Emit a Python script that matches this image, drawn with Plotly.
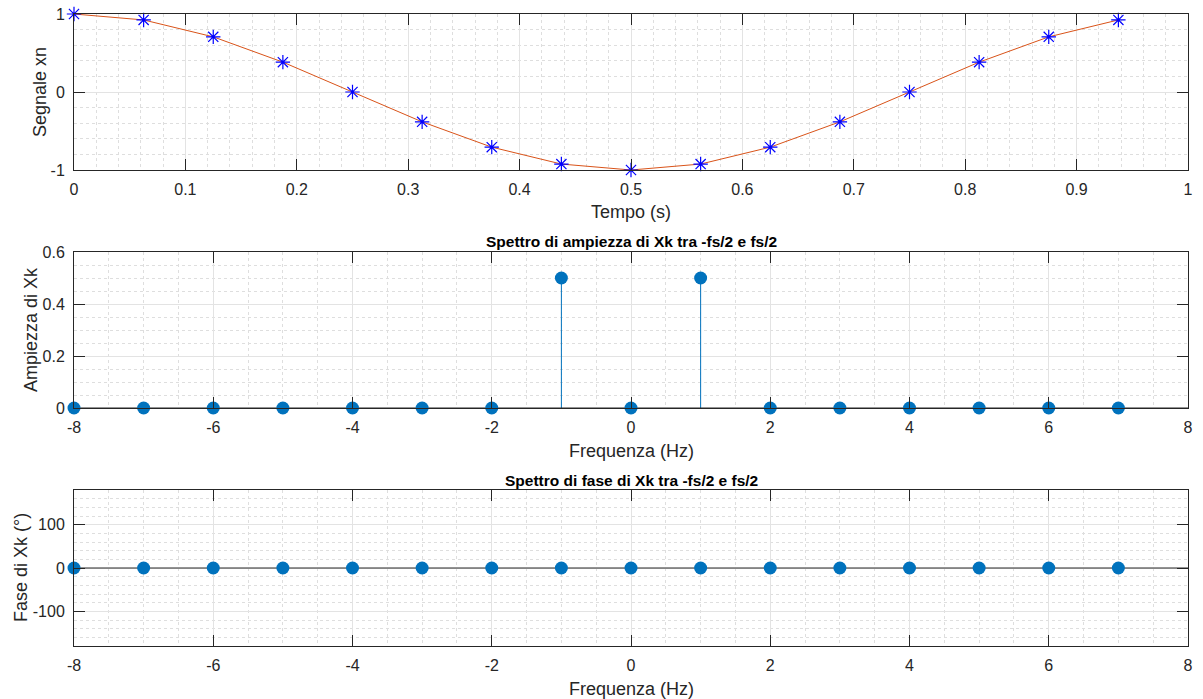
import numpy as np
import plotly.graph_objects as go

# ---- data ----
t = [0, 0.0625, 0.125, 0.1875, 0.25, 0.3125, 0.375, 0.4375, 0.5,
     0.5625, 0.625, 0.6875, 0.75, 0.8125, 0.875, 0.9375]
xn = [1, 0.9239, 0.7071, 0.3827, 0, -0.3827, -0.7071, -0.9239, -1,
      -0.9239, -0.7071, -0.3827, 0, 0.3827, 0.7071, 0.9239]
freq = [-8, -7, -6, -5, -4, -3, -2, -1, 0, 1, 2, 3, 4, 5, 6, 7]
amp = [0, 0, 0, 0, 0, 0, 0, 0.5, 0, 0.5, 0, 0, 0, 0, 0, 0]
phase = [0] * 16

t_ticks = [0, 0.1, 0.2, 0.3, 0.4, 0.5, 0.6, 0.7, 0.8, 0.9, 1]
t_labels = ["0", "0.1", "0.2", "0.3", "0.4", "0.5", "0.6", "0.7", "0.8", "0.9", "1"]
x_ticks = [-8, -6, -4, -2, 0, 2, 4, 6, 8]
x_labels = ["-8", "-6", "-4", "-2", "0", "2", "4", "6", "8"]
y1_ticks, y1_labels = [-1, 0, 1], ["-1", "0", "1"]
y2_ticks, y2_labels = [0, 0.2, 0.4, 0.6], ["0", "0.2", "0.4", "0.6"]
y3_ticks, y3_labels = [-100, 0, 100], ["-100", "0", "100"]

W, H = 1203, 699
AX = "#262626"
BLUE = "#0072BD"
FONT = "Liberation Sans, Arial, sans-serif"

def px_y(py):
    return 1 - py / H

def px_x(px):
    return px / W

xdom = [px_x(74), px_x(1188)]
ydoms = [(px_y(170), px_y(14)), (px_y(408), px_y(252)), (px_y(646), px_y(490))]

fig = go.Figure()

# top: signal
fig.add_trace(go.Scatter(x=t, y=xn, mode="lines", line=dict(color="#D95319", width=1),
                         xaxis="x", yaxis="y", showlegend=False, hoverinfo="skip"))
fig.add_trace(go.Scatter(x=t, y=xn, mode="markers",
                         marker=dict(symbol="asterisk-open", size=12, color="#0000FF",
                                     line=dict(color="#0000FF", width=1.2)),
                         cliponaxis=False, xaxis="x", yaxis="y", showlegend=False))

def stems(xs, ys, xa, ya):
    sx, sy = [], []
    for a, b in zip(xs, ys):
        sx += [a, a, None]
        sy += [0, b, None]
    fig.add_trace(go.Scatter(x=sx, y=sy, mode="lines", line=dict(color=BLUE, width=1),
                             xaxis=xa, yaxis=ya, showlegend=False, hoverinfo="skip"))
    fig.add_trace(go.Scatter(x=[-8, 8], y=[0, 0], mode="lines", line=dict(color=AX, width=1),
                             xaxis=xa, yaxis=ya, showlegend=False, hoverinfo="skip"))
    fig.add_trace(go.Scatter(x=xs, y=ys, mode="markers",
                             marker=dict(symbol="circle", size=13, color=BLUE),
                             cliponaxis=False, xaxis=xa, yaxis=ya, showlegend=False))

stems(freq, amp, "x2", "y2")
stems(freq, phase, "x3", "y3")

tickfont = dict(family=FONT, size=16, color=AX)

def common(minor):
    return dict(showline=True, linecolor=AX, linewidth=1, mirror="ticks",
                ticks="inside", ticklen=11, tickcolor=AX, tickfont=tickfont,
                ticklabelstandoff=5, automargin=False,
                showgrid=True, gridcolor="#E3E3E3", gridwidth=1, zeroline=False,
                minor=dict(dtick=minor, tick0=0, showgrid=True, gridcolor="#DEDEDE",
                           griddash="dot", gridwidth=1, ticks=""))

def xaxis(rng, tv, tt, minor, anchor):
    d = common(minor)
    d.update(domain=xdom, range=rng, tickvals=tv, ticktext=tt, anchor=anchor)
    return d

def yaxis(dom, rng, tv, tt, minor, anchor):
    d = common(minor)
    d.update(domain=list(dom), range=rng, tickvals=tv, ticktext=tt, anchor=anchor)
    return d

fig.update_layout(
    width=W, height=H, margin=dict(l=0, r=0, t=0, b=0),
    paper_bgcolor="white", plot_bgcolor="white",
    font=dict(family=FONT, size=16, color=AX),
    xaxis=xaxis([0, 1], t_ticks, t_labels, 0.02, "y"),
    yaxis=yaxis(ydoms[0], [-1, 1], y1_ticks, y1_labels, 0.2, "x"),
    xaxis2=xaxis([-8, 8], x_ticks, x_labels, 0.5, "y2"),
    yaxis2=yaxis(ydoms[1], [0, 0.6], y2_ticks, y2_labels, 0.05, "x2"),
    xaxis3=xaxis([-8, 8], x_ticks, x_labels, 0.5, "y3"),
    yaxis3=yaxis(ydoms[2], [-180, 180], y3_ticks, y3_labels, 20, "x3"),
)

def ann(text, px, py, size=18, bold=False, angle=0):
    fig.add_annotation(text=f"<b>{text}</b>" if bold else text,
                       x=px_x(px), y=px_y(py), xref="paper", yref="paper",
                       showarrow=False, textangle=angle, xanchor="center", yanchor="middle",
                       font=dict(family=FONT, size=size, color=AX if not bold else "#000000"))

cx = (74 + 1188) / 2
ann("Tempo (s)", cx, 212)
ann("Frequenza (Hz)", cx, 451)
ann("Frequenza (Hz)", cx, 689)
ann("Segnale xn", 40, 92, angle=-90)
ann("Ampiezza di Xk", 31, 330, angle=-90)
ann("Fase di Xk (°)", 21, 568, angle=-90)
ann("Spettro di ampiezza di Xk tra -fs/2 e fs/2", cx, 242, size=15.5, bold=True)
ann("Spettro di fase di Xk tra -fs/2 e fs/2", cx, 480, size=15.5, bold=True)

fig.write_html("out.html")
